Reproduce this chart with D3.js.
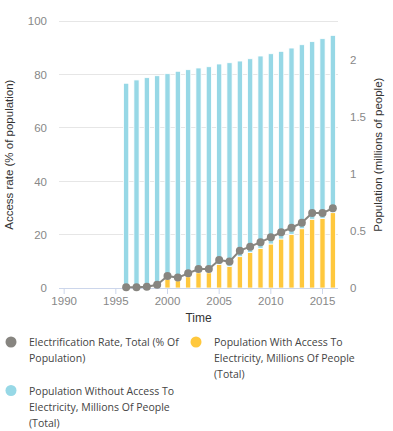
<!DOCTYPE html>
<html>
<head>
<meta charset="utf-8">
<script src="https://cdn.jsdelivr.net/npm/d3@7"></script>
<style>
html,body{margin:0;padding:0;background:#fff;}
svg{display:block;}
</style>
</head>
<body>
<svg id="chart" width="393" height="431"></svg>
<script>
const allYears = d3.range(1990, 2017);
const years = [1996,1997,1998,1999,2000,2001,2002,2003,2004,2005,2006,2007,2008,2009,2010,2011,2012,2013,2014,2015,2016];
const electrificationRate = [0.3,0.3,0.5,1.2,4.5,3.9,5.5,7.1,7.1,10.5,9.9,14.0,15.5,17.2,19.0,20.9,22.6,24.5,28.1,28.1,29.9];
const popWithAccess = [0.003,0.003,0.005,0.01,0.079,0.064,0.099,0.134,0.134,0.208,0.190,0.275,0.311,0.348,0.386,0.430,0.471,0.520,0.603,0.611,0.661];
const popWithoutAccess = [1.793,1.822,1.840,1.852,1.801,1.837,1.816,1.796,1.807,1.757,1.786,1.716,1.700,1.687,1.669,1.646,1.634,1.614,1.558,1.576,1.555];
const leftTicks = [0,20,40,60,80,100];
const rightTicks = [0,0.5,1,1.5,2];
const xTickYears = [1990,1995,2000,2005,2010,2015];
const legendItems = [
  {name:["Electrification Rate, Total (% Of","Population)"], color:"#878580"},
  {name:["Population With Access To","Electricity, Millions Of People","(Total)"], color:"#ffc83d"},
  {name:["Population Without Access To","Electricity, Millions Of People","(Total)"], color:"#97d8e6"}
];

const svg = d3.select("#chart");
const L = 59, R = 338, T = 21.3, B = 288;
const x = d3.scaleBand().domain(allYears).range([L, R]).paddingInner(0).paddingOuter(0);
const yL = d3.scaleLinear().domain([0,100]).range([B, T]);
const yR = d3.scaleLinear().domain([0, (B-T)/114]).range([B, T]);

const axisFont = "'Liberation Sans', Arial, sans-serif";
// gridlines
svg.append("g").selectAll("line").data(leftTicks.filter(d=>d>0)).join("line")
  .attr("x1", L).attr("x2", R).attr("y1", d=>yL(d)).attr("y2", d=>yL(d))
  .attr("stroke", "#e6e6e6").attr("stroke-width", 1).attr("shape-rendering","crispEdges");

// left axis labels
const gl = svg.append("g").attr("transform", `translate(${L-12},0)`)
  .call(d3.axisLeft(yL).tickValues(leftTicks).tickSize(0).tickPadding(0));
gl.select(".domain").remove();
gl.selectAll("text").attr("fill","#888").style("font-family",axisFont).style("font-size","11.5px");

// right axis labels
const gr = svg.append("g").attr("transform", `translate(${R+12},0)`)
  .call(d3.axisRight(yR).tickValues(rightTicks).tickSize(0).tickPadding(0).tickFormat(d3.format("")));
gr.select(".domain").remove();
gr.selectAll("text").attr("fill","#888").style("font-family",axisFont).style("font-size","11.5px");

// bars
const stackData = years.map((yr,i)=>({year:yr, withA:popWithAccess[i], without:popWithoutAccess[i]}));
const stacked = d3.stack().keys(["withA","without"])(stackData);
const colors = {withA:"#ffc83d", without:"#97d8e6"};
const bw = 5.2;
svg.append("g").selectAll("g").data(stacked).join("g")
  .attr("fill", d=>colors[d.key])
  .selectAll("rect").data(d=>d).join("rect")
  .attr("x", d=>x(d.data.year) + x.bandwidth()/2 - bw/2)
  .attr("width", bw)
  .attr("y", d=>yR(d[1]))
  .attr("height", d=>Math.max(0, yR(d[0]) - yR(d[1])))
  .attr("stroke","#fff").attr("stroke-width",0.8);

// x axis
const gx = svg.append("g").attr("transform", `translate(0,${B})`)
  .call(d3.axisBottom(x).tickValues(xTickYears).tickSize(6).tickPadding(3));
gx.select(".domain").attr("d", `M${L},0.5H${R}`).attr("stroke","#ccd6eb").attr("stroke-width",1);
gx.selectAll(".tick line").attr("stroke","#ccd6eb");
gx.selectAll("text").attr("fill","#888").style("font-family",axisFont).style("font-size","11.5px");

// line
const lineGen = d3.line().x((d,i)=>x(years[i]) + x.bandwidth()/2).y(d=>yL(d));
svg.append("path").datum(electrificationRate).attr("d", lineGen)
  .attr("fill","none").attr("stroke","#878580").attr("stroke-width",2);
svg.append("g").selectAll("circle").data(electrificationRate).join("circle")
  .attr("cx",(d,i)=>x(years[i]) + x.bandwidth()/2).attr("cy", d=>yL(d)).attr("r",4)
  .attr("fill","#878580");

// axis titles
svg.append("text").attr("transform", `translate(13,${(T+B)/2}) rotate(-90)`)
  .attr("text-anchor","middle").attr("fill","#333").style("font-family",axisFont).style("font-size","11.5px")
  .text("Access rate (% of population)");
svg.append("text").attr("transform", `translate(382,${(T+B)/2}) rotate(-90)`)
  .attr("text-anchor","middle").attr("fill","#333").style("font-family",axisFont).style("font-size","11.5px")
  .text("Population (millions of people)");
svg.append("text").attr("x", (L+R)/2).attr("y", 322)
  .attr("text-anchor","middle").attr("fill","#333").style("font-family",axisFont).style("font-size","12px")
  .text("Time");

// legend
const legendPos = [{x:11,y:342},{x:196,y:342},{x:11,y:390.5}];
const lg = svg.append("g");
legendItems.forEach((it,i)=>{
  const p = legendPos[i];
  lg.append("circle").attr("cx",p.x).attr("cy",p.y).attr("r",5.5).attr("fill",it.color);
  const t = lg.append("text").attr("x",p.x+18).attr("y",p.y+4)
    .attr("fill","#444").style("font-family","'Open Sans', sans-serif").style("font-size","10.5px");
  it.name.forEach((ln,j)=>{
    t.append("tspan").attr("x",p.x+18).attr("dy", j===0?0:16).text(ln);
  });
});
</script>
</body>
</html>
